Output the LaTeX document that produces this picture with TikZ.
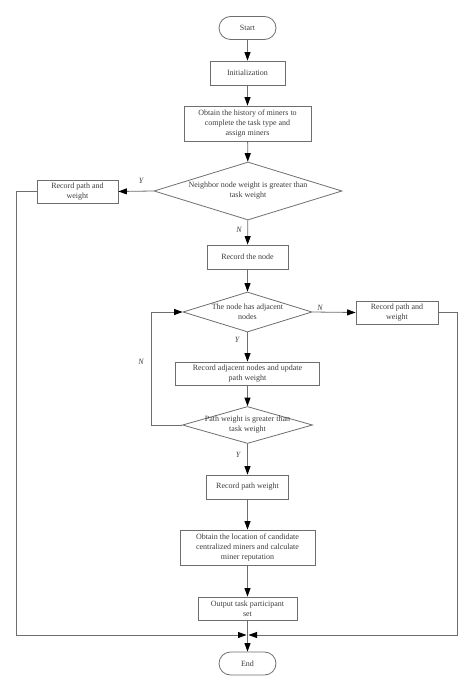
\documentclass[tikz,border=0pt]{standalone}
\usepackage{fontspec}
\setmainfont{Liberation Serif}
\usetikzlibrary{shapes.geometric,arrows.meta}
\definecolor{linegray}{RGB}{110,110,110}
\definecolor{textgray}{RGB}{60,60,60}

\begin{document}
\begin{tikzpicture}[x=1pt,y=-1pt]
    \useasboundingbox (0,0) rectangle (474,692);
    \tikzstyle{every node}=[font=\fontsize{8}{10}\selectfont, text=textgray, align=center]
    \tikzstyle{proc}=[draw=linegray, line width=0.8pt, rectangle, inner sep=0pt]
    \tikzstyle{term}=[draw=linegray, line width=0.8pt, rectangle, rounded corners=11.5pt, minimum width=57pt, minimum height=23pt]
    \tikzstyle{decide}=[draw=linegray, line width=0.8pt, diamond, inner sep=0pt, inner ysep=-1.5pt]
    \tikzstyle{flow}=[draw=linegray, line width=0.8pt, -{Triangle[length=8.5pt,width=6pt,color=black]}]
    \tikzstyle{yn}=[font=\fontsize{8}{9}\selectfont\itshape, inner sep=0pt]

    \node[term] (start) at (247.5,28) {Start};
    \node[term] (end) at (247.5,663.5) {End};

    % boxes of the main column
    \foreach \name/\cy/\w/\h/\txt in {
        init/73/75/24/{Initialization},
        hist/123.5/127/35/{Obtain the history of miners to\\complete the task type and\\assign miners},
        rec/257/81/24/{Record the node},
        adj/373.5/144/23/{Record adjacent nodes and update\\path weight},
        pathw/487/82/24/{Record path weight},
        loc/547.5/135/35/{Obtain the location of candidate\\centralized miners and calculate\\miner reputation},
        out/608.5/99/23/{Output task participant\\set}} {
        \node[proc, minimum width=\w pt, minimum height=\h pt] (\name) at (247.5,\cy) {\txt};
    }

    \node[decide, aspect=3.24, minimum width=188pt, minimum height=58pt] (dia1) at (248,191) {Neighbor node weight is greater than\\task weight};
    \node[decide, aspect=3.2, minimum width=129pt, minimum height=40pt] (dia2) at (247.5,312) {The node has adjacent\\nodes};
    \node[decide, aspect=3.5, inner ysep=-4.5pt, minimum width=130pt, minimum height=37pt] (dia3) at (247.5,425) {Path weight is greater than\\task weight};

    \node[proc, minimum width=81pt, minimum height=23pt] (recl) at (77.5,191.5) {Record path and\\weight};
    \node[proc, minimum width=82pt, minimum height=23pt] (recr) at (397,312.5) {Record path and\\weight};

    \coordinate (join) at (247.5,635);

    % main chain
    \foreach \a/\b in {start/init, init/hist, hist/dia1, dia1/rec, rec/dia2, dia2/adj, adj/dia3, dia3/pathw, pathw/loc, loc/out, out/end} {
        \draw[flow] (\a) -- (\b);
    }

    \draw[flow] (dia1.west) -- (recl.east);
    \draw[flow] (dia2.east) -- (recr.west);
    \draw[flow] (dia3.west) -- ++(-30.5,0) |- (dia2.west);
    \draw[flow] (recl.west) -- ++(-20.5,0) |- ([xshift=-1pt]join);
    \draw[flow] (recr.east) -- ++(19,0) |- ([xshift=1pt]join);

    \node[yn] (y1) at (141,181) {Y};
    \node[yn] (n1) at (239,230) {N};
    \node[yn] (n2) at (320,308) {N};
    \node[yn] (y2) at (237,340) {Y};
    \node[yn] (n3) at (141,362) {N};
    \node[yn] (y3) at (238,455) {Y};
\end{tikzpicture}
\end{document}
